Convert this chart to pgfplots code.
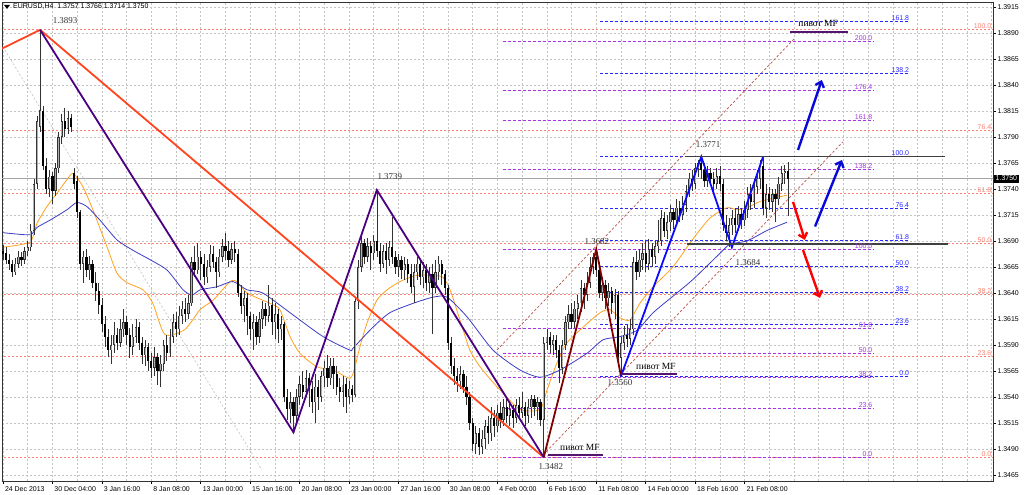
\documentclass[border=0pt]{standalone}
\usepackage{fontspec}
\setmainfont{Liberation Sans}
\newfontfamily\tms{Liberation Serif}
\usepackage{pgfplots}
\pgfplotsset{compat=1.18}
\usepackage{pgfplotstable}
\usetikzlibrary{arrows.meta}
\definecolor{fibred}{RGB}{250,128,114}
\definecolor{fibblue}{RGB}{40,40,255}
\definecolor{fibpurp}{RGB}{170,50,230}
\definecolor{zzred}{RGB}{255,69,30}
\definecolor{zzpurp}{RGB}{75,0,130}
\definecolor{zzmar}{RGB}{128,0,0}
\definecolor{zzblue}{RGB}{10,10,255}
\definecolor{maor}{RGB}{255,160,30}
\definecolor{mabl}{RGB}{60,60,200}
\definecolor{chan}{RGB}{185,80,70}
\definecolor{gridc}{RGB}{195,195,195}
\definecolor{bullin}{RGB}{175,175,175}
\definecolor{pivc}{RGB}{85,20,110}
\pgfplotstableread{
i o h l c
0 1.3680 1.3686 1.3672 1.3678
1 1.3678 1.3684 1.3668 1.3672
2 1.3672 1.3678 1.3662 1.3668
3 1.3668 1.3672 1.3655 1.3660
4 1.3660 1.3674 1.3657 1.3668
5 1.3668 1.3680 1.3664 1.3675
6 1.3675 1.3679 1.3666 1.3672
7 1.3672 1.3684 1.3668 1.3680
8 1.3680 1.3690 1.3676 1.3684
9 1.3684 1.3706 1.3680 1.3700
10 1.3700 1.3750 1.3696 1.3745
11 1.3745 1.3810 1.3740 1.3805
12 1.3800 1.3893 1.3795 1.3816
13 1.3815 1.3820 1.3758 1.3762
14 1.3762 1.3770 1.3735 1.3740
15 1.3740 1.3758 1.3732 1.3752
16 1.3752 1.3756 1.3726 1.3738
17 1.3738 1.3765 1.3733 1.3760
18 1.3760 1.3795 1.3755 1.3790
19 1.3790 1.3812 1.3783 1.3805
20 1.3805 1.3818 1.3790 1.3798
21 1.3798 1.3815 1.3793 1.3808
22 1.3808 1.3812 1.3795 1.3800
23 1.3755 1.3760 1.3740 1.3745
24 1.3748 1.3752 1.3712 1.3718
25 1.3718 1.3720 1.3662 1.3668
26 1.3668 1.3680 1.3650 1.3675
27 1.3675 1.3682 1.3655 1.3662
28 1.3662 1.3676 1.3652 1.3668
29 1.3668 1.3672 1.3645 1.3650
30 1.3650 1.3660 1.3632 1.3642
31 1.3642 1.3650 1.3620 1.3628
32 1.3628 1.3635 1.3602 1.3610
33 1.3610 1.3618 1.3588 1.3598
34 1.3598 1.3605 1.3578 1.3585
35 1.3585 1.3600 1.3572 1.3590
36 1.3590 1.3612 1.3582 1.3600
37 1.3600 1.3606 1.3585 1.3592
38 1.3592 1.3615 1.3588 1.3605
39 1.3605 1.3625 1.3598 1.3612
40 1.3612 1.3618 1.3590 1.3600
41 1.3600 1.3606 1.3578 1.3588
42 1.3588 1.3610 1.3580 1.3598
43 1.3598 1.3615 1.3592 1.3607
44 1.3607 1.3612 1.3585 1.3592
45 1.3592 1.3598 1.3572 1.3580
46 1.3580 1.3595 1.3570 1.3588
47 1.3588 1.3592 1.3565 1.3575
48 1.3575 1.3582 1.3558 1.3568
49 1.3568 1.3588 1.3560 1.3578
50 1.3578 1.3582 1.3552 1.3565
51 1.3565 1.3580 1.3550 1.3572
52 1.3572 1.3595 1.3565 1.3590
53 1.3590 1.3600 1.3575 1.3582
54 1.3582 1.3605 1.3578 1.3598
55 1.3598 1.3620 1.3592 1.3612
56 1.3612 1.3622 1.3598 1.3605
57 1.3605 1.3628 1.3600 1.3618
58 1.3618 1.3632 1.3610 1.3625
59 1.3625 1.3635 1.3612 1.3620
60 1.3620 1.3638 1.3615 1.3630
61 1.3630 1.3675 1.3628 1.3670
62 1.3670 1.3685 1.3655 1.3662
63 1.3662 1.3688 1.3658 1.3675
64 1.3675 1.3680 1.3652 1.3668
65 1.3668 1.3678 1.3648 1.3655
66 1.3655 1.3672 1.3650 1.3665
67 1.3665 1.3686 1.3660 1.3678
68 1.3678 1.3685 1.3664 1.3670
69 1.3670 1.3675 1.3645 1.3660
70 1.3660 1.3682 1.3655 1.3675
71 1.3675 1.3692 1.3670 1.3685
72 1.3685 1.3698 1.3672 1.3680
73 1.3680 1.3690 1.3665 1.3672
74 1.3672 1.3688 1.3668 1.3682
75 1.3682 1.3690 1.3670 1.3678
76 1.3678 1.3682 1.3636 1.3640
77 1.3640 1.3648 1.3620 1.3628
78 1.3628 1.3642 1.3612 1.3635
79 1.3635 1.3640 1.3600 1.3618
80 1.3618 1.3622 1.3595 1.3605
81 1.3605 1.3620 1.3585 1.3612
82 1.3612 1.3618 1.3590 1.3598
83 1.3598 1.3622 1.3592 1.3615
84 1.3615 1.3632 1.3605 1.3625
85 1.3625 1.3630 1.3608 1.3618
86 1.3618 1.3648 1.3612 1.3628
87 1.3628 1.3635 1.3600 1.3612
88 1.3612 1.3630 1.3596 1.3620
89 1.3620 1.3625 1.3592 1.3605
90 1.3605 1.3618 1.3595 1.3610
91 1.3610 1.3612 1.3535 1.3540
92 1.3540 1.3548 1.3518 1.3528
93 1.3528 1.3545 1.3515 1.3535
94 1.3535 1.3540 1.3506 1.3522
95 1.3522 1.3548 1.3515 1.3540
96 1.3540 1.3560 1.3532 1.3552
97 1.3552 1.3565 1.3538 1.3545
98 1.3545 1.3566 1.3540 1.3558
99 1.3558 1.3563 1.3530 1.3548
100 1.3548 1.3555 1.3525 1.3535
101 1.3535 1.3562 1.3515 1.3550
102 1.3550 1.3556 1.3528 1.3540
103 1.3540 1.3565 1.3535 1.3560
104 1.3560 1.3575 1.3550 1.3568
105 1.3568 1.3580 1.3550 1.3558
106 1.3558 1.3578 1.3552 1.3570
107 1.3570 1.3577 1.3548 1.3562
108 1.3562 1.3570 1.3542 1.3550
109 1.3550 1.3558 1.3535 1.3545
110 1.3545 1.3560 1.3530 1.3552
111 1.3552 1.3558 1.3525 1.3540
112 1.3540 1.3555 1.3533 1.3548
113 1.3548 1.3552 1.3535 1.3542
114 1.3542 1.3636 1.3540 1.3632
115 1.3632 1.3672 1.3625 1.3665
116 1.3665 1.3695 1.3660 1.3688
117 1.3688 1.3692 1.3668 1.3675
118 1.3675 1.3693 1.3670 1.3685
119 1.3685 1.3690 1.3662 1.3678
120 1.3678 1.3696 1.3672 1.3690
121 1.3690 1.3739 1.3675 1.3680
122 1.3680 1.3688 1.3660 1.3668
123 1.3668 1.3686 1.3664 1.3680
124 1.3680 1.3688 1.3658 1.3672
125 1.3672 1.3690 1.3666 1.3684
126 1.3684 1.3713 1.3668 1.3675
127 1.3675 1.3680 1.3658 1.3665
128 1.3665 1.3678 1.3655 1.3672
129 1.3672 1.3676 1.3654 1.3662
130 1.3662 1.3675 1.3652 1.3668
131 1.3668 1.3673 1.3650 1.3658
132 1.3658 1.3668 1.3640 1.3646
133 1.3646 1.3668 1.3630 1.3660
134 1.3660 1.3675 1.3652 1.3668
135 1.3668 1.3672 1.3648 1.3655
136 1.3655 1.3670 1.3645 1.3662
137 1.3662 1.3668 1.3642 1.3650
138 1.3650 1.3665 1.3640 1.3658
139 1.3658 1.3668 1.3601 1.3645
140 1.3645 1.3672 1.3640 1.3660
141 1.3660 1.3676 1.3652 1.3668
142 1.3668 1.3672 1.3648 1.3658
143 1.3658 1.3662 1.3638 1.3645
144 1.3645 1.3648 1.3585 1.3592
145 1.3592 1.3598 1.3562 1.3570
146 1.3570 1.3578 1.3552 1.3560
147 1.3560 1.3568 1.3545 1.3555
148 1.3555 1.3570 1.3548 1.3562
149 1.3562 1.3566 1.3544 1.3550
150 1.3550 1.3560 1.3532 1.3540
151 1.3540 1.3545 1.3508 1.3515
152 1.3515 1.3520 1.3488 1.3495
153 1.3495 1.3512 1.3485 1.3505
154 1.3505 1.3510 1.3484 1.3492
155 1.3492 1.3508 1.3485 1.3500
156 1.3500 1.3518 1.3490 1.3512
157 1.3512 1.3522 1.3495 1.3505
158 1.3505 1.3530 1.3498 1.3520
159 1.3520 1.3528 1.3502 1.3512
160 1.3512 1.3532 1.3506 1.3525
161 1.3525 1.3535 1.3510 1.3518
162 1.3518 1.3538 1.3512 1.3530
163 1.3530 1.3540 1.3515 1.3522
164 1.3522 1.3535 1.3512 1.3528
165 1.3528 1.3532 1.3510 1.3520
166 1.3520 1.3538 1.3515 1.3532
167 1.3532 1.3540 1.3518 1.3525
168 1.3525 1.3545 1.3520 1.3530
169 1.3530 1.3535 1.3512 1.3522
170 1.3522 1.3538 1.3515 1.3530
171 1.3530 1.3542 1.3520 1.3538
172 1.3538 1.3542 1.3522 1.3530
173 1.3530 1.3540 1.3518 1.3535
174 1.3535 1.3538 1.3512 1.3518
175 1.3518 1.3598 1.3482 1.3592
176 1.3592 1.3605 1.3585 1.3598
177 1.3598 1.3603 1.3582 1.3590
178 1.3590 1.3600 1.3580 1.3595
179 1.3595 1.3600 1.3578 1.3585
180 1.3585 1.3590 1.3553 1.3568
181 1.3568 1.3595 1.3562 1.3590
182 1.3590 1.3618 1.3585 1.3612
183 1.3612 1.3628 1.3605 1.3620
184 1.3620 1.3630 1.3605 1.3612
185 1.3612 1.3632 1.3606 1.3625
186 1.3625 1.3638 1.3615 1.3630
187 1.3630 1.3652 1.3622 1.3645
188 1.3645 1.3650 1.3625 1.3638
189 1.3638 1.3660 1.3632 1.3650
190 1.3650 1.3675 1.3645 1.3665
191 1.3665 1.3679 1.3658 1.3675
192 1.3675 1.3682 1.3655 1.3662
193 1.3662 1.3670 1.3635 1.3640
194 1.3640 1.3655 1.3632 1.3648
195 1.3648 1.3652 1.3625 1.3635
196 1.3635 1.3650 1.3628 1.3642
197 1.3642 1.3646 1.3620 1.3630
198 1.3630 1.3644 1.3615 1.3638
199 1.3638 1.3642 1.3572 1.3578
200 1.3578 1.3598 1.3560 1.3592
201 1.3592 1.3608 1.3585 1.3600
202 1.3600 1.3610 1.3588 1.3596
203 1.3596 1.3615 1.3590 1.3605
204 1.3605 1.3675 1.3600 1.3670
205 1.3670 1.3680 1.3652 1.3660
206 1.3660 1.3682 1.3655 1.3672
207 1.3672 1.3688 1.3662 1.3678
208 1.3678 1.3690 1.3660 1.3668
209 1.3668 1.3692 1.3662 1.3682
210 1.3682 1.3688 1.3665 1.3675
211 1.3675 1.3690 1.3668 1.3685
212 1.3685 1.3710 1.3678 1.3690
213 1.3690 1.3720 1.3685 1.3712
214 1.3712 1.3718 1.3694 1.3700
215 1.3700 1.3715 1.3692 1.3708
216 1.3708 1.3725 1.3700 1.3718
217 1.3718 1.3722 1.3702 1.3710
218 1.3710 1.3730 1.3705 1.3722
219 1.3722 1.3728 1.3708 1.3715
220 1.3715 1.3733 1.3710 1.3725
221 1.3725 1.3744 1.3718 1.3738
222 1.3738 1.3755 1.3732 1.3750
223 1.3750 1.3758 1.3738 1.3745
224 1.3745 1.3765 1.3740 1.3760
225 1.3760 1.3768 1.3752 1.3765
226 1.3765 1.3771 1.3750 1.3758
227 1.3758 1.3765 1.3742 1.3748
228 1.3748 1.3762 1.3742 1.3755
229 1.3755 1.3760 1.3744 1.3750
230 1.3750 1.3756 1.3738 1.3745
231 1.3745 1.3760 1.3740 1.3752
232 1.3752 1.3762 1.3738 1.3745
233 1.3745 1.3750 1.3700 1.3705
234 1.3705 1.3715 1.3690 1.3698
235 1.3698 1.3712 1.3684 1.3705
236 1.3705 1.3720 1.3696 1.3712
237 1.3712 1.3722 1.3698 1.3705
238 1.3705 1.3724 1.3700 1.3716
239 1.3716 1.3722 1.3702 1.3710
240 1.3710 1.3728 1.3704 1.3720
241 1.3720 1.3742 1.3712 1.3735
242 1.3735 1.3745 1.3720 1.3728
243 1.3728 1.3750 1.3722 1.3742
244 1.3742 1.3758 1.3735 1.3750
245 1.3750 1.3768 1.3740 1.3762
246 1.3762 1.3770 1.3715 1.3722
247 1.3722 1.3745 1.3712 1.3735
248 1.3735 1.3742 1.3720 1.3728
249 1.3728 1.3740 1.3718 1.3735
250 1.3735 1.3740 1.3708 1.3730
251 1.3730 1.3752 1.3725 1.3745
252 1.3745 1.3762 1.3738 1.3755
253 1.3755 1.3763 1.3745 1.3757
254 1.3757 1.3766 1.3714 1.3750
}\candles
\begin{document}
\begin{tikzpicture}[font=\fontsize{7}{8}\selectfont]
\useasboundingbox (0,0) rectangle (1024bp,495bp);
\begin{axis}[
  at={(2bp,14bp)}, anchor=south west,
  scale only axis, width=991bp, height=479bp,
  xmin=-0.32, xmax=320.4, ymin=1.34592, ymax=1.39198,
  axis line style={black!80, line width=0.8bp},
  xtick={0,16,...,240},
  xticklabels={24 Dec 2013,30 Dec 04:00,3 Jan 16:00,8 Jan 08:00,13 Jan 00:00,15 Jan 16:00,20 Jan 08:00,23 Jan 00:00,27 Jan 16:00,30 Jan 08:00,4 Feb 00:00,6 Feb 16:00,11 Feb 08:00,14 Feb 00:00,18 Feb 16:00,21 Feb 08:00},
  minor xtick={8,24,...,312},
  extra x ticks={256,272,...,320},
  extra x tick labels={},
  extra x tick style={major tick length=0pt, grid=major},
  xtick pos=left, ytick pos=right,
  tick align=outside,
  major tick length=3bp, minor tick length=0pt,
  xticklabel style={anchor=north west, xshift=-1.5bp, yshift=1bp},
  ytick={1.3465,1.3490,1.3515,1.3540,1.3565,1.3590,1.3615,1.3640,1.3665,1.3690,1.3715,1.3740,1.3765,1.3790,1.3815,1.3840,1.3865,1.3890,1.3915},
  yticklabel pos=right,
  yticklabel style={anchor=west, xshift=-2bp, /pgf/number format/fixed, /pgf/number format/fixed zerofill, /pgf/number format/precision=4, /pgf/number format/assume math mode=true},
  scaled y ticks=false,
  grid=both,
  major grid style={gridc, dash pattern=on 2bp off 2bp, line width=0.6bp},
  minor grid style={gridc, dash pattern=on 2bp off 2bp, line width=0.6bp},
  tick style={black, line width=0.6bp},
]
% big fib (red)
\addplot[fibred, dash pattern=on 2bp off 2bp, line width=0.9bp, forget plot] coordinates {(-1,1.3893) (321,1.3893)};
\addplot[fibred, dash pattern=on 2bp off 2bp, line width=0.9bp, forget plot] coordinates {(-1,1.3796) (321,1.3796)};
\addplot[fibred, dash pattern=on 2bp off 2bp, line width=0.9bp, forget plot] coordinates {(-1,1.3736) (321,1.3736)};
\addplot[fibred, dash pattern=on 2bp off 2bp, line width=0.9bp, forget plot] coordinates {(-1,1.36875) (321,1.36875)};
\addplot[fibred, dash pattern=on 2bp off 2bp, line width=0.9bp, forget plot] coordinates {(-1,1.3639) (321,1.3639)};
\addplot[fibred, dash pattern=on 2bp off 2bp, line width=0.9bp, forget plot] coordinates {(-1,1.3579) (321,1.3579)};
\addplot[fibred, dash pattern=on 2bp off 2bp, line width=0.9bp, forget plot] coordinates {(-1,1.3482) (321,1.3482)};
% purple fib
\addplot[fibpurp, dash pattern=on 3bp off 2bp, line width=0.8bp, forget plot] coordinates {(161.8,1.3882) (281.6,1.3882)};
\addplot[fibpurp, dash pattern=on 3bp off 2bp, line width=0.8bp, forget plot] coordinates {(161.8,1.38348) (281.6,1.38348)};
\addplot[fibpurp, dash pattern=on 3bp off 2bp, line width=0.8bp, forget plot] coordinates {(161.8,1.38056) (281.6,1.38056)};
\addplot[fibpurp, dash pattern=on 3bp off 2bp, line width=0.8bp, forget plot] coordinates {(161.8,1.37584) (281.6,1.37584)};
\addplot[fibpurp, dash pattern=on 3bp off 2bp, line width=0.8bp, forget plot] coordinates {(161.8,1.3682) (281.6,1.3682)};
\addplot[fibpurp, dash pattern=on 3bp off 2bp, line width=0.8bp, forget plot] coordinates {(161.8,1.36056) (281.6,1.36056)};
\addplot[fibpurp, dash pattern=on 3bp off 2bp, line width=0.8bp, forget plot] coordinates {(161.8,1.3582) (281.6,1.3582)};
\addplot[fibpurp, dash pattern=on 3bp off 2bp, line width=0.8bp, forget plot] coordinates {(161.8,1.35584) (281.6,1.35584)};
\addplot[fibpurp, dash pattern=on 3bp off 2bp, line width=0.8bp, forget plot] coordinates {(161.8,1.35292) (281.6,1.35292)};
\addplot[fibpurp, dash pattern=on 3bp off 2bp, line width=0.8bp, forget plot] coordinates {(161.8,1.3482) (281.6,1.3482)};
% blue fib
\addplot[fibblue, dash pattern=on 3bp off 2bp, line width=0.8bp, forget plot] coordinates {(193.2,1.39014) (293.5,1.39014)};
\addplot[fibblue, dash pattern=on 3bp off 2bp, line width=0.8bp, forget plot] coordinates {(193.2,1.38516) (293.5,1.38516)};
\addplot[fibblue, dash pattern=on 3bp off 2bp, line width=0.8bp, forget plot] coordinates {(193.2,1.3771) (293.5,1.3771)};
\addplot[fibblue, dash pattern=on 3bp off 2bp, line width=0.8bp, forget plot] coordinates {(193.2,1.37212) (293.5,1.37212)};
\addplot[fibblue, dash pattern=on 3bp off 2bp, line width=0.8bp, forget plot] coordinates {(193.2,1.36904) (293.5,1.36904)};
\addplot[fibblue, dash pattern=on 3bp off 2bp, line width=0.8bp, forget plot] coordinates {(193.2,1.36655) (293.5,1.36655)};
\addplot[fibblue, dash pattern=on 3bp off 2bp, line width=0.8bp, forget plot] coordinates {(193.2,1.36406) (293.5,1.36406)};
\addplot[fibblue, dash pattern=on 3bp off 2bp, line width=0.8bp, forget plot] coordinates {(193.2,1.36098) (293.5,1.36098)};
\addplot[fibblue, dash pattern=on 3bp off 2bp, line width=0.8bp, forget plot] coordinates {(193.2,1.3560) (293.5,1.3560)};
% current price line
\addplot[black!35, line width=0.6bp, forget plot] coordinates {(-1,1.3750) (321,1.3750)};
% channel & gray guide lines
\addplot[chan, dash pattern=on 2.5bp off 2bp, line width=0.7bp, forget plot] coordinates {(159.9,1.35852) (256.3,1.38852)};
\addplot[chan, dash pattern=on 2.5bp off 2bp, line width=0.7bp, forget plot] coordinates {(174.8,1.34843) (271.8,1.37852)};
\addplot[black!25, dash pattern=on 2bp off 2bp, line width=0.6bp, forget plot] coordinates {(0.6,1.38737) (83.8,1.34698)};
% moving averages
\addplot[maor, line width=0.8bp, smooth, tension=0.4, forget plot] coordinates {(0,1.3684) (8.7,1.3689) (11,1.3707) (14.2,1.3723) (17.5,1.3736) (20.7,1.3749) (22.7,1.3755) (25.9,1.3742) (29.1,1.3720) (33.7,1.3684) (36.9,1.3659) (40.1,1.3650) (45.3,1.3643) (48.5,1.3630) (52.4,1.3600) (58.9,1.3605) (63.8,1.3624) (68,1.3633) (73.5,1.3651) (75.7,1.3651) (79,1.3640) (86.4,1.3630) (89.6,1.3624) (92.9,1.3598) (96.1,1.3582) (101.6,1.3569) (106.8,1.3566) (112.3,1.3558) (113.9,1.3569) (115.5,1.3588) (117.8,1.3611) (121,1.3633) (124.3,1.3643) (128.5,1.3651) (134,1.3657) (139.2,1.3657) (142.4,1.3655) (144.7,1.3643) (147.9,1.3614) (151.1,1.3585) (154.4,1.3569) (158.6,1.3554) (160.8,1.3547) (167.3,1.3528) (173.8,1.3528) (176.1,1.3547) (179.3,1.3573) (182.5,1.3592) (187.7,1.3607) (193.2,1.3621) (196.4,1.3624) (199.7,1.3616) (202.9,1.3614) (206.1,1.3630) (210.4,1.3646) (216.8,1.3665) (223.3,1.3692) (228.8,1.3712) (234.3,1.3722) (237.5,1.3720) (240.8,1.3722) (245,1.3728) (249.2,1.3731) (253.7,1.3734)};
\addplot[mabl, line width=0.8bp, smooth, tension=0.4, forget plot] coordinates {(0,1.3698) (8.7,1.3696) (11,1.3703) (15.2,1.3710) (20.7,1.3720) (23.9,1.3727) (27.2,1.3723) (31.4,1.3710) (36.9,1.3691) (42.1,1.3681) (47.6,1.3672) (53.1,1.3662) (58.3,1.3643) (61.2,1.3638) (63.8,1.3643) (69.3,1.3646) (74.4,1.3651) (79,1.3643) (84.1,1.3640) (92.9,1.3621) (103.6,1.3598) (112.3,1.3585) (113.3,1.3587) (119.7,1.3607) (125.2,1.3621) (132.7,1.3630) (139.2,1.3636) (143.7,1.3636) (150.2,1.3617) (158.6,1.3585) (167.3,1.3566) (173.8,1.3559) (180.3,1.3566) (189,1.3582) (194.2,1.3595) (199.7,1.3598) (205.2,1.3604) (210.4,1.3621) (218.1,1.3640) (223.3,1.3653) (232,1.3678) (235.3,1.3687) (240.8,1.3690) (247.2,1.3700) (253.7,1.3708)};
% candles: wicks, bull bodies (outline + light core), bear bodies
\addplot[draw=none, mark=none, forget plot, error bars/.cd, y dir=both, y explicit, error mark=none, error bar style={draw=black!80, line width=0.6bp}]
  table[x=i, y expr={(\thisrow{h}+\thisrow{l})/2}, y error expr={(\thisrow{h}-\thisrow{l})/2}] {\candles};
\addplot[draw=none, mark=none, forget plot, error bars/.cd, y dir=both, y explicit, error mark=none, error bar style={draw=black!80, line width=2.3bp}]
  table[x=i, y expr={\thisrow{c}<\thisrow{o} ? 2 : (\thisrow{o}+\thisrow{c})/2}, y error expr={abs(\thisrow{c}-\thisrow{o})/2}] {\candles};
\addplot[draw=none, mark=none, forget plot, error bars/.cd, y dir=both, y explicit, error mark=none, error bar style={draw=bullin, line width=0.8bp}]
  table[x=i, y expr={\thisrow{c}-\thisrow{o}<0.00014 ? 2 : (\thisrow{o}+\thisrow{c})/2}, y error expr={abs(\thisrow{c}-\thisrow{o})/2-0.00006}] {\candles};
\addplot[draw=none, mark=none, forget plot, error bars/.cd, y dir=both, y explicit, error mark=none, error bar style={draw=black, line width=2.3bp}]
  table[x=i, y expr={\thisrow{c}<\thisrow{o} ? (\thisrow{o}+\thisrow{c})/2 : 2}, y error expr={abs(\thisrow{o}-\thisrow{c})/2}] {\candles};
% zigzags
\addplot[zzred, line width=1.8bp, forget plot] coordinates {(-1,1.3874) (12,1.3893) (175,1.3482)};
\addplot[zzpurp, line width=1.8bp, forget plot] coordinates {(12,1.3893) (94,1.3506) (121,1.3739) (175,1.3482)};
\addplot[zzmar, line width=1.8bp, forget plot] coordinates {(175,1.3482) (192,1.3682) (200,1.3560)};
\addplot[zzblue, line width=1.8bp, forget plot] coordinates {(200,1.3560) (226,1.3771) (235.9,1.3684) (246,1.3771)};
% horizontal levels
\addplot[black!75, line width=1.2bp, forget plot] coordinates {(220.7,1.3771) (304.9,1.3771)};
\addplot[black!75, line width=1.2bp, forget plot] coordinates {(221.4,1.3687) (305.8,1.3687)};
% pivot underlines
\addplot[pivc, line width=1.6bp, forget plot] coordinates {(176.4,1.3484) (194.2,1.3484)};
\addplot[pivc, line width=1.6bp, forget plot] coordinates {(200.3,1.3562) (218.1,1.3562)};
\addplot[pivc, line width=1.6bp, forget plot] coordinates {(254.7,1.3891) (273.5,1.3891)};
% arrows
\addplot[zzblue!85!black, line width=2.4bp, -{Straight Barb[length=5bp,width=9bp]}, forget plot] coordinates {(257.3,1.37775) (265.0,1.38448)};
\addplot[zzblue!85!black, line width=2.4bp, -{Straight Barb[length=5bp,width=9bp]}, forget plot] coordinates {(262.8,1.37039) (271.5,1.37679)};
\addplot[red, line width=2.4bp, -{Straight Barb[length=5bp,width=9bp]}, forget plot] coordinates {(255.7,1.37275) (259.5,1.36910)};
\addplot[red, line width=2.4bp, -{Straight Barb[length=5bp,width=9bp]}, forget plot] coordinates {(258.9,1.36814) (264.4,1.36352)};
% fib labels
\begin{scope}[every node/.style={inner sep=0.6bp, anchor=south east}]
\node[text=fibred] at (axis cs:320.1,1.3893) {100.0};
\node[text=fibred] at (axis cs:320.1,1.3796) {76.4};
\node[text=fibred] at (axis cs:320.1,1.3736) {61.8};
\node[text=fibred] at (axis cs:320.1,1.36875) {50.0};
\node[text=fibred] at (axis cs:320.1,1.3639) {38.2};
\node[text=fibred] at (axis cs:320.1,1.3579) {23.6};
\node[text=fibred] at (axis cs:320.1,1.3482) {0.0};
\node[text=fibpurp] at (axis cs:281.6,1.3882) {200.0};
\node[text=fibpurp] at (axis cs:281.6,1.38348) {176.4};
\node[text=fibpurp] at (axis cs:281.6,1.38056) {161.8};
\node[text=fibpurp] at (axis cs:281.6,1.37584) {138.2};
\node[text=fibpurp] at (axis cs:281.6,1.3682) {100.0};
\node[text=fibpurp] at (axis cs:281.6,1.36056) {61.8};
\node[text=fibpurp] at (axis cs:281.6,1.3582) {50.0};
\node[text=fibpurp] at (axis cs:281.6,1.35584) {38.2};
\node[text=fibpurp] at (axis cs:281.6,1.35292) {23.6};
\node[text=fibpurp] at (axis cs:281.6,1.3482) {0.0};
\node[text=fibblue] at (axis cs:293.5,1.39014) {161.8};
\node[text=fibblue] at (axis cs:293.5,1.38516) {138.2};
\node[text=fibblue] at (axis cs:293.5,1.3771) {100.0};
\node[text=fibblue] at (axis cs:293.5,1.37212) {76.4};
\node[text=fibblue] at (axis cs:293.5,1.36904) {61.8};
\node[text=fibblue] at (axis cs:293.5,1.36655) {50.0};
\node[text=fibblue] at (axis cs:293.5,1.36406) {38.2};
\node[text=fibblue] at (axis cs:293.5,1.36098) {23.6};
\node[text=fibblue] at (axis cs:293.5,1.3560) {0.0};
\end{scope}
% price labels
\begin{scope}[every node/.style={inner sep=0pt, text=black!80, font=\tms\fontsize{9}{10}\selectfont}]
\node at (axis cs:20.1,1.39015) {1.3893};
\node at (axis cs:125.2,1.37515) {1.3739};
\node at (axis cs:192.2,1.36890) {1.3682};
\node at (axis cs:228.2,1.37823) {1.3771};
\node at (axis cs:241.1,1.36689) {1.3684};
\node at (axis cs:199.7,1.35535) {1.3560};
\node at (axis cs:177.3,1.34727) {1.3482};
\end{scope}
\begin{scope}[every node/.style={inner sep=0pt, text=black, font=\tms\fontsize{9.5}{10}\selectfont}]
\node at (axis cs:186.7,1.34910) {пивот MF};
\node at (axis cs:211.3,1.35689) {пивот MF};
\node at (axis cs:263.8,1.38987) {пивот MF};
\end{scope}
\end{axis}
% title and current price box
\fill[black] (4bp,490bp) -- (10bp,490bp) -- (7bp,486bp) -- cycle;
\node[anchor=west, inner sep=0pt] at (13bp,488bp) {EURUSD,H4\ \ 1.3757 1.3766 1.3714 1.3750};
\node[anchor=west, fill=black, text=white, inner xsep=1.5bp, inner ysep=1.6bp] at (994bp,316.4bp) {1.3750};
\end{tikzpicture}
\end{document}
